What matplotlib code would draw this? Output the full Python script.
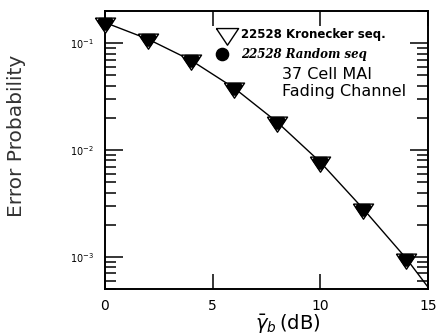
import matplotlib.pyplot as plt
from matplotlib.ticker import LogLocator, NullFormatter

# SNR (dB) and error probability
snr_db = [0, 2, 4, 6, 8, 10, 12, 14]
p_kron = [0.156, 0.109, 0.069, 0.038, 0.0182, 0.0077, 0.0028, 0.00096]
p_rand = [0.156, 0.109, 0.069, 0.038, 0.0182, 0.0077, 0.0028, 0.00096]
# fitted curve, runs on to the lower right corner
fit_x = [0, 2, 4, 6, 8, 10, 12, 14, 15]
fit_y = [0.156, 0.109, 0.069, 0.038, 0.0182, 0.0077, 0.0028, 0.00096, 0.00052]

# down triangle with its incentre at the origin
tri = [(-1, 0.535), (1, 0.535), (0, -0.965), (-1, 0.535)]
# same triangle with the corners cut off (filled marker sits inside the open one)
cut = [(-0.62, 0.535), (0.62, 0.535), (0.81, 0.25), (0.19, -0.68),
       (-0.19, -0.68), (-0.81, 0.25), (-0.62, 0.535)]

fig = plt.figure(figsize=(4.36, 3.36), dpi=100)
ax = fig.add_axes([0.2408, 0.1399, 0.7409, 0.8274])

ax.plot(fit_x, fit_y, color='black', lw=1.0, zorder=2)
ax.plot(snr_db, p_kron, ls='none', marker=tri, ms=14.5, mfc='white',
        mec='black', mew=1.0, zorder=3, clip_on=False)
ax.plot(snr_db, p_rand, ls='none', marker=cut, ms=14.5 * 0.81, mfc='black',
        mec='black', mew=0.5, zorder=4, clip_on=False)

ax.set_yscale('log')
ax.set_xlim(0, 15)
ax.set_ylim(5e-4, 0.2)
ax.set_xticks([0, 5, 10, 15])
ax.yaxis.set_major_locator(LogLocator(base=10, numticks=10))
ax.yaxis.set_minor_locator(LogLocator(base=10, subs=range(2, 10), numticks=10))
ax.yaxis.set_minor_formatter(NullFormatter())

for s in ax.spines.values():
    s.set_linewidth(1.4)
ax.tick_params(axis='x', which='major', direction='in', length=11, width=1.1,
               top=True, labelsize=10, pad=7)
ax.tick_params(axis='y', which='major', direction='in', length=13, width=1.1,
               right=True, labelsize=7, pad=8)
ax.tick_params(axis='y', which='minor', direction='in', length=8, width=1.1,
               right=True)
ax.tick_params(axis='x', which='minor', bottom=False, top=False)

ax.set_ylabel('Error Probability', fontsize=14.5, color='#333333')
ax.yaxis.set_label_coords(-0.245, 0.55)
ax.set_xlabel(r'$\bar{\gamma}_b\,$(dB)', fontsize=14)
ax.xaxis.set_label_coords(0.565, -0.082)

# legend drawn by hand like the original
ax.plot([0.378], [0.917], transform=ax.transAxes, ls='none', marker=tri,
        ms=16, mfc='white', mec='black', mew=1.0, clip_on=False)
ax.plot([0.362], [0.845], transform=ax.transAxes, ls='none', marker='o',
        ms=8.8, mfc='black', mec='black', clip_on=False)
ax.text(0.42, 0.917, '22528 Kronecker seq.', transform=ax.transAxes,
        fontsize=8.5, fontweight='bold', va='center', ha='left')
ax.text(0.42, 0.845, '22528 Random seq', transform=ax.transAxes,
        fontsize=8.5, fontweight='bold', style='italic', family='DejaVu Serif',
        va='center', ha='left')
ax.text(0.548, 0.773, '37 Cell MAI', transform=ax.transAxes,
        fontsize=11.5, va='center', ha='left')
ax.text(0.548, 0.709, 'Fading Channel', transform=ax.transAxes,
        fontsize=11.5, va='center', ha='left')

fig.savefig('out.png', dpi=100)
